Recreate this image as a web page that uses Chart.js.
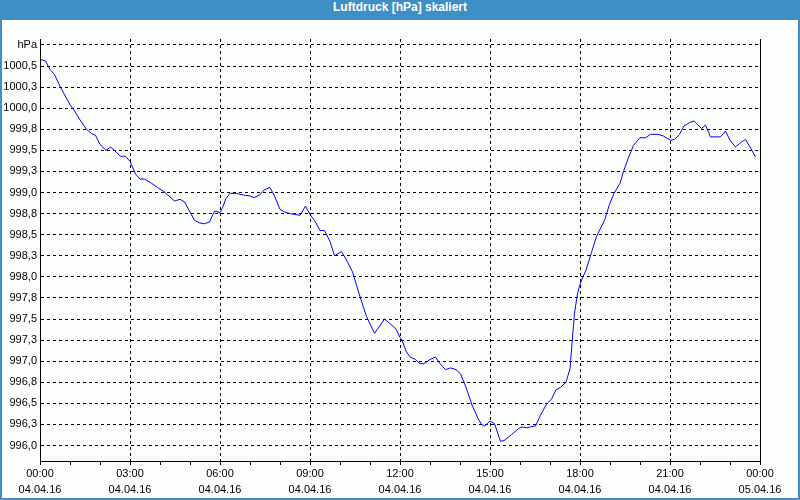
<!DOCTYPE html>
<html>
<head>
<meta charset="utf-8">
<script src="https://cdn.jsdelivr.net/npm/chart.js@4"></script>
<style>
  html, body { margin: 0; padding: 0; background: #3d8fc6; }
  #frame { position: absolute; left: 0; top: 0; width: 800px; height: 500px; background: #3d8fc6; overflow: hidden; }
  #title { position: absolute; left: 0; top: 0; width: 800px; height: 20px; line-height: 20px; text-align: center;
           color: #ffffff; font: bold 12px "Liberation Sans", Arial, sans-serif; }
  #inner { position: absolute; left: 2px; top: 20px; width: 796px; height: 478px; background: #fcfefc; }
  canvas { display: block; }
</style>
</head>
<body>
<div id="frame">
  <div id="title">Luftdruck [hPa] skaliert</div>
  <div id="inner"><canvas id="c" width="796" height="478"></canvas></div>
</div>
<script>
// Minutes since 04.04.16 00:00
const timesMin = [
  0, 11, 20, 29, 40, 60, 68, 79, 93, 103, 111, 120, 132, 141, 149, 161, 171, 180, 191, 200,
  209, 223, 235, 248, 269, 280, 289, 309, 319, 329, 339, 349, 356, 360, 365, 372, 380, 393, 407, 420,
  428, 439, 448, 460, 469, 480, 489, 500, 509, 520, 531, 540, 549, 560, 569, 580, 589, 603, 613, 625,
  633, 643, 653, 669, 689, 703, 712, 721, 724, 732, 740, 751, 760, 768, 780, 791, 800, 811, 821, 832,
  841, 852, 864, 876, 883, 889, 900, 909, 921, 929, 943, 957, 964, 973, 981, 991, 1001, 1013, 1023, 1032,
  1041, 1052, 1060, 1064, 1069, 1075, 1079, 1083, 1092, 1103, 1113, 1129, 1139, 1148, 1160, 1167, 1176, 1187, 1200, 1211,
  1221, 1236, 1247, 1261, 1269, 1279, 1288, 1299, 1308, 1313, 1323, 1331, 1341, 1361, 1371, 1380, 1391, 1401, 1411, 1420,
  1431
];
// Luftdruck in hPa
const pressure = [
  1000.58, 1000.56, 1000.46, 1000.40, 1000.26, 1000.04, 999.98, 999.87, 999.75, 999.70, 999.68, 999.57, 999.50, 999.54, 999.50, 999.43, 999.43, 999.37, 999.22, 999.16,
  999.16, 999.11, 999.06, 999.01, 998.90, 998.92, 998.89, 998.67, 998.64, 998.63, 998.65, 998.78, 998.77, 998.76, 998.82, 998.93, 998.99, 998.99, 998.97, 998.96,
  998.94, 998.97, 999.03, 999.06, 998.96, 998.80, 998.77, 998.75, 998.74, 998.73, 998.84, 998.74, 998.67, 998.55, 998.55, 998.42, 998.25, 998.30, 998.20, 998.06,
  997.90, 997.71, 997.53, 997.33, 997.50, 997.43, 997.38, 997.27, 997.25, 997.12, 997.05, 997.02, 996.97, 996.97, 997.02, 997.05, 996.97, 996.90, 996.92, 996.90,
  996.85, 996.69, 996.48, 996.32, 996.25, 996.23, 996.29, 996.26, 996.05, 996.06, 996.13, 996.20, 996.22, 996.21, 996.22, 996.23, 996.36, 996.49, 996.55, 996.66,
  996.69, 996.75, 996.91, 997.21, 997.57, 997.80, 997.89, 997.96, 998.08, 998.29, 998.48, 998.67, 998.86, 998.99, 999.11, 999.25, 999.40, 999.56, 999.65, 999.65,
  999.69, 999.69, 999.67, 999.62, 999.63, 999.69, 999.79, 999.83, 999.85, 999.82, 999.76, 999.80, 999.66, 999.66, 999.73, 999.62, 999.54, 999.59, 999.63, 999.54,
  999.42
];
// Y axis ticks and their labels
const yTickValues = [996.0, 996.25, 996.5, 996.75, 997.0, 997.25, 997.5, 997.75, 998.0, 998.25,
                     998.5, 998.75, 999.0, 999.25, 999.5, 999.75, 1000.0, 1000.25, 1000.5, 1000.75];
const yTickLabels = ['996,0', '996,3', '996,5', '996,8', '997,0', '997,3', '997,5', '997,8', '998,0', '998,3',
                     '998,5', '998,8', '999,0', '999,3', '999,5', '999,8', '1000,0', '1000,3', '1000,5', 'hPa'];
// X axis labels (every 3 hours)
const xTickHours = [0, 3, 6, 9, 12, 15, 18, 21, 24];
const xTickTimes = ['00:00', '03:00', '06:00', '09:00', '12:00', '15:00', '18:00', '21:00', '00:00'];
const xTickDates = ['04.04.16', '04.04.16', '04.04.16', '04.04.16', '04.04.16', '04.04.16', '04.04.16', '04.04.16', '05.04.16'];

const points = timesMin.map((m, i) => ({ x: m, y: pressure[i] }));
const FONT = { family: '"Liberation Sans", Arial, sans-serif', size: 11 };

new Chart(document.getElementById('c'), {
  type: 'line',
  data: {
    datasets: [{
      data: points,
      borderColor: '#0000ff',
      borderWidth: 1,
      pointRadius: 0,
      tension: 0,
      fill: false
    }]
  },
  options: {
    responsive: false,
    animation: false,
    events: [],
    layout: { padding: { top: 19, left: 0, right: 0, bottom: 0 } },
    plugins: { legend: { display: false }, tooltip: { enabled: false }, title: { display: false } },
    scales: {
      x: {
        type: 'linear',
        position: 'bottom',
        min: 0,
        max: 1440,
        afterBuildTicks: (scale) => {
          const t = [];
          for (let h = 0; h <= 24; h++) t.push({ value: h * 60 });
          scale.ticks = t;
        },
        afterFit: (scale) => { scale.height = 37; },
        ticks: {
          autoSkip: false,
          maxRotation: 0,
          padding: 1,
          color: '#000000',
          font: Object.assign({ lineHeight: '16px' }, FONT),
          callback: (value) => {
            const idx = xTickHours.indexOf(value / 60);
            if (idx < 0) return '';
            return [xTickTimes[idx], xTickDates[idx]];
          }
        },
        grid: {
          display: true,
          drawOnChartArea: true,
          drawTicks: true,
          tickLength: 4,
          lineWidth: 1,
          color: (ctx) => (ctx.tick && xTickHours.indexOf(ctx.tick.value / 60) >= 0) ? '#000000' : 'rgba(0,0,0,0)',
          tickColor: '#000000'
        },
        border: { display: true, color: '#000000', width: 1, dash: [3, 3] }
      },
      y: {
        type: 'linear',
        position: 'left',
        min: 995.816,
        max: 1000.821,
        afterBuildTicks: (scale) => { scale.ticks = yTickValues.map(v => ({ value: v })); },
        afterFit: (scale) => { scale.width = 38; },
        ticks: {
          autoSkip: false,
          padding: 3,
          color: '#000000',
          font: FONT,
          callback: (value) => {
            const idx = yTickValues.indexOf(value);
            return idx >= 0 ? yTickLabels[idx] : '';
          }
        },
        grid: { display: true, drawTicks: false, color: '#000000', lineWidth: 1 },
        border: { display: true, color: '#000000', width: 1, dash: [3, 3] }
      },
      y2: {
        type: 'linear',
        position: 'right',
        display: true,
        afterFit: (scale) => { scale.width = 38; },
        ticks: { display: false },
        grid: { display: false, drawOnChartArea: false, drawTicks: false },
        border: { display: true, color: '#000000', width: 1 }
      }
    }
  }
});
</script>
</body>
</html>
